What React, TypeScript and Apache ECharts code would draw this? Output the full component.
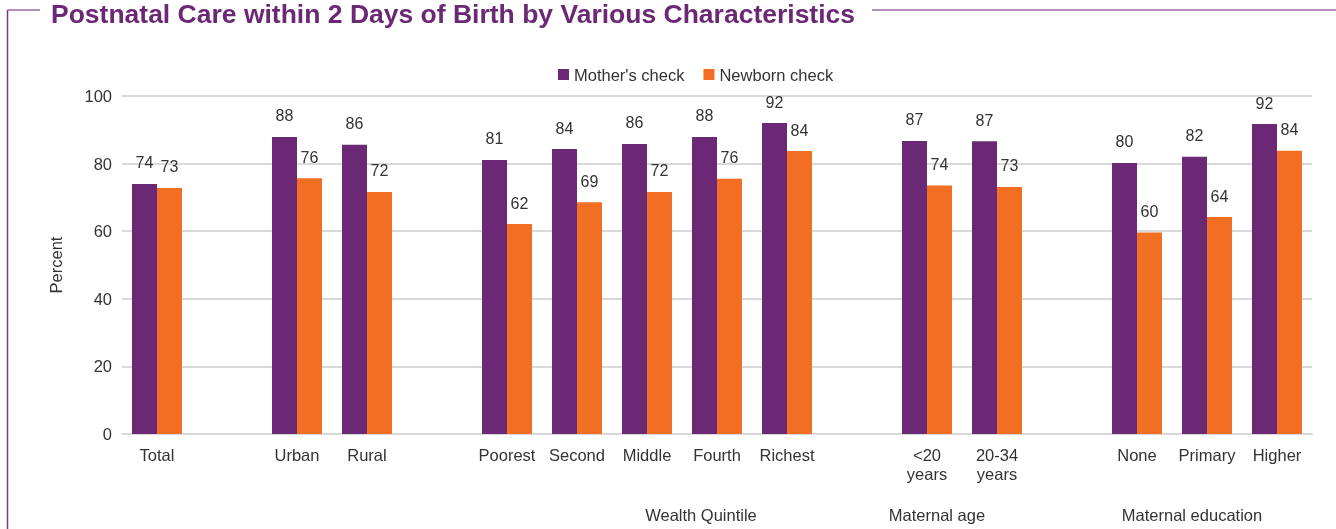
import React, { useEffect, useRef } from "react";
import * as echarts from "echarts";

const categories = [
  "Total", "", "Urban", "Rural", "", "Poorest", "Second", "Middle", "Fourth", "Richest", "",
  "<20\nyears", "20-34\nyears", "", "None", "Primary", "Higher",
];
const mothersCheck = [74.0, null, 87.9, 85.6, null, 81.1, 84.3, 85.8, 87.9, 92.0, null, 86.7, 86.6, null, 80.2, 82.0, 91.7];
const newbornCheck = [72.8, null, 75.7, 71.6, null, 62.1, 68.6, 71.6, 75.5, 83.7, null, 73.5, 73.1, null, 59.6, 64.2, 83.8];
const yTicks = { min: 0, max: 100, interval: 20 };
const groupLabels = [
  { text: "Wealth Quintile", x: 701 },
  { text: "Maternal age", x: 937 },
  { text: "Maternal education", x: 1192 },
];
const title = "Postnatal Care within 2 Days of Birth by Various Characteristics";

const PURPLE = "#6b2874";
const ORANGE = "#f26e23";
const FONT = "Liberation Sans, Arial, sans-serif";

export default function App() {
  const ref = useRef<HTMLDivElement>(null);
  useEffect(() => {
    if (!ref.current) return;
    const chart = echarts.init(ref.current, undefined, { renderer: "svg" });
    const labelOpt = {
      show: true,
      position: "top",
      distance: 13,
      color: "#333",
      fontSize: 16,
      fontFamily: FONT,
      formatter: (p: any) => (p.value == null ? "" : String(Math.round(p.value))),
    };
    chart.setOption({
      animation: false,
      textStyle: { fontFamily: FONT },
      legend: {
        top: 61,
        left: 553,
        itemWidth: 11,
        itemHeight: 11,
        itemGap: 19,
        itemStyle: { borderWidth: 0 },
        icon: "rect",
        textStyle: { fontSize: 16.5, color: "#333", fontFamily: FONT },
        data: ["Mother's check", "Newborn check"],
      },
      grid: { left: 122, right: 24, top: 96, bottom: 95 },
      xAxis: {
        type: "category",
        data: categories,
        axisLine: { lineStyle: { color: "#d9d9d9", width: 2 } },
        axisTick: { show: false },
        axisLabel: {
          interval: 0,
          color: "#333",
          fontSize: 16.5,
          fontFamily: FONT,
          margin: 11,
          lineHeight: 19,
        },
      },
      yAxis: {
        type: "value",
        min: yTicks.min,
        max: yTicks.max,
        interval: yTicks.interval,
        name: "Percent",
        nameLocation: "middle",
        nameGap: 58,
        nameRotate: 90,
        nameTextStyle: { fontSize: 16.5, color: "#333", fontFamily: FONT },
        axisLine: { show: false },
        axisTick: { show: false },
        axisLabel: { color: "#333", fontSize: 16.5, fontFamily: FONT, margin: 10 },
        splitLine: { lineStyle: { color: "#d9d9d9", width: 2 } },
      },
      series: [
        {
          name: "Mother's check",
          type: "bar",
          data: mothersCheck,
          barWidth: 25,
          barGap: "0%",
          itemStyle: { color: PURPLE },
          label: labelOpt,
        },
        {
          name: "Newborn check",
          type: "bar",
          data: newbornCheck,
          barWidth: 25,
          barGap: "0%",
          itemStyle: { color: ORANGE },
          label: labelOpt,
        },
      ],
      graphic: [
        { type: "line", shape: { x1: 7.5, y1: 10, x2: 40, y2: 10 }, style: { stroke: "#9a6aa5", lineWidth: 1.5 } },
        { type: "line", shape: { x1: 872, y1: 10, x2: 1336, y2: 10 }, style: { stroke: "#9a6aa5", lineWidth: 1.5 } },
        { type: "line", shape: { x1: 7.5, y1: 10, x2: 7.5, y2: 529 }, style: { stroke: "#7d3a8a", lineWidth: 1.5 } },
        {
          type: "text",
          x: 453,
          y: 13.5,
          style: {
            text: title,
            fill: PURPLE,
            font: "bold 26.5px " + FONT,
            textAlign: "center",
            textVerticalAlign: "middle",
          },
        },
        ...groupLabels.map((g) => ({
          type: "text",
          x: g.x,
          y: 515,
          style: {
            text: g.text,
            fill: "#333",
            font: "16.5px " + FONT,
            textAlign: "center",
            textVerticalAlign: "middle",
          },
        })),
      ],
    });
    return () => chart.dispose();
  }, []);
  return (
    <div
      ref={ref}
      style={{ position: "fixed", left: 0, top: 0, width: 1336, height: 529 }}
    />
  );
}
